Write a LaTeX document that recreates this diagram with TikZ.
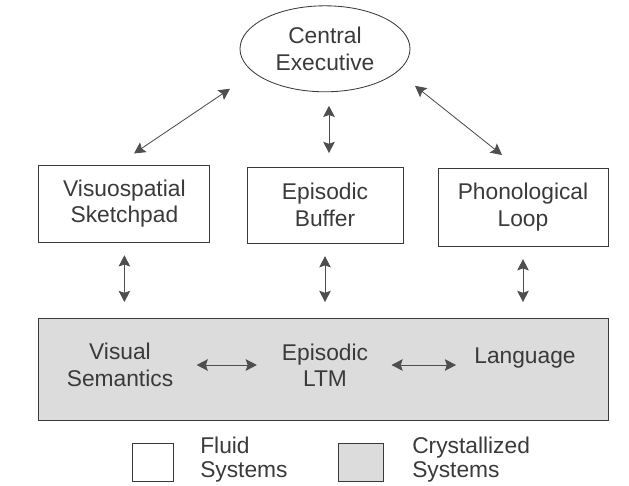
\documentclass[tikz,border=0pt]{standalone}
\usepackage{fontspec}
\setmainfont{Liberation Sans}
\usetikzlibrary{arrows.meta, shapes.geometric}
\definecolor{ink}{HTML}{3A3A3A}
\definecolor{crystal}{HTML}{DCDCDC}

\begin{document}
\begin{tikzpicture}[
        every node/.style={text=ink, font=\fontsize{16.2}{18.8}\selectfont, align=center},
        fluid/.style={draw=ink, line width=0.6pt, outer sep=0pt, inner sep=0pt},
        keytext/.style={anchor=west, align=left, inner sep=0pt, font=\fontsize{16.2}{17.2}\selectfont},
        link/.style={draw=ink!90, line width=0.6pt, {Stealth[length=2.8mm,width=2.9mm,inset=0.5mm]}-{Stealth[length=2.8mm,width=2.9mm,inset=0.5mm]}},
        vert/.style={link, shorten <=0.33cm, shorten >=0.4cm},
        horiz/.style={link, shorten <=0.58cm}
    ]
                \useasboundingbox (0,0) rectangle (15.725,-12.15);
                \node[fluid, ellipse, minimum width=4.25cm, minimum height=2.15cm] (ce) at (8.125,-1.22) {Central\\Executive};
                \node[fluid, minimum width=4.275cm, minimum height=1.925cm] (vs) at (3.11,-5.09) {Visuospatial\\Sketchpad};
                \node[fluid, minimum width=3.9cm, minimum height=1.9cm] (eb) at (8.125,-5.125) {Episodic\\Buffer};
                \node[fluid, minimum width=4.25cm, minimum height=1.95cm] (pl) at (13.075,-5.175) {Phonological\\Loop};
                \node[fluid, fill=crystal, minimum width=14.25cm, minimum height=2.55cm] (lt) at (8.075,-9.225) {};
                \node[inner sep=0pt] (vsem) at (3.0,-9.125) {Visual\\Semantics};
                \node[inner sep=0pt] (eltm) at (8.125,-9.125) {Episodic\\LTM};
                \node[inner sep=0pt] (lang) at (13.125,-8.95) {Language};
                \draw[link] ([shift={(-2.375,-1.0)}]ce.center) -- ([shift={(0.24,0.29)}]vs.north);
                \draw[link, shorten <=0.35cm, shorten >=0.35cm] ([xshift=0.1cm]ce.south) -- ([xshift=0.1cm]eb.north);
                \draw[link] ([shift={(2.25,-0.925)}]ce.center) -- ([shift={(-0.525,0.325)}]pl.north);
                \draw[vert] (vs.south) -- (vs.south |- lt.north);
                \draw[vert] (eb.south) -- (eb.south |- lt.north);
                \draw[vert] (pl.south) -- (pl.south |- lt.north);
                \draw[horiz, shorten >=0.62cm] (vsem.east) -- (eltm.west);
                \draw[horiz, shorten >=0.45cm] (eltm.east) -- (eltm.east -| lang.west);
                \node[fluid, minimum width=1.025cm, minimum height=0.95cm] (kf) at (3.8125,-11.55) {};
                \node[fluid, fill=crystal, minimum width=1.125cm, minimum height=0.95cm] (kc) at (9.0125,-11.55) {};
                \node[keytext] (kft) at (5.0,-11.5) {Fluid\\Systems};
                \node[keytext] (kct) at (10.3,-11.5) {Crystallized\\Systems};
            \end{tikzpicture}
\end{document}
